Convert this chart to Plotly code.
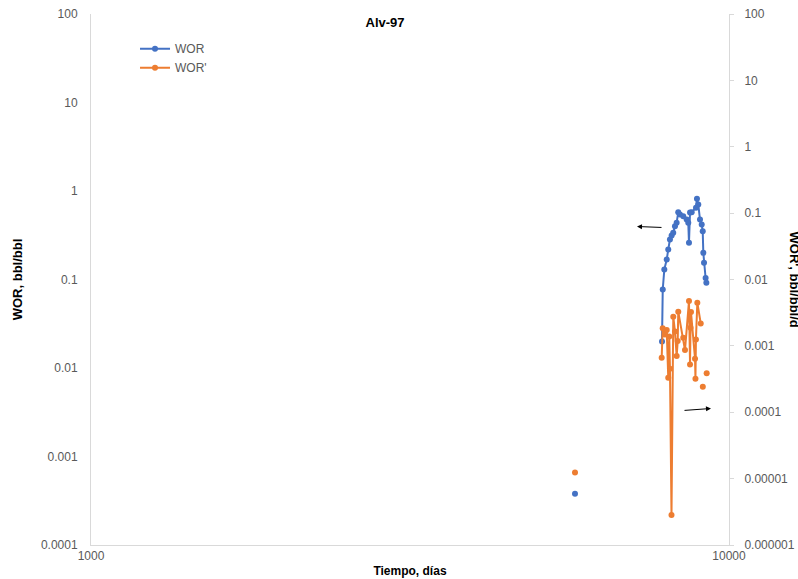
import plotly.graph_objects as go

# ---- data ----
wor_days = [5736, 6800, 7852, 7873, 7918, 7987, 8031, 8080, 8130, 8177, 8228, 8278,
            8326, 8378, 8478, 8583, 8633, 8655, 8688, 8740, 8877, 8908, 8951, 9006,
            9062, 9095, 9115, 9138, 9190, 9215]
wor_vals = [0.00038, None, 0.0199, 0.0771, 0.130, 0.168, 0.218, 0.283, 0.314, 0.337,
            0.400, 0.437, 0.576, 0.542, 0.519, 0.476, 0.437, 0.260, 0.571, 0.576,
            0.646, 0.816, 0.703, 0.476, 0.418, 0.352, 0.200, 0.155, 0.104, 0.092]

wor_d_days = [5736, 6800, 7843, 7872, 7937, 7987, 8031, 8061, 8081, 8126, 8178, 8229,
              8279, 8310, 8327, 8479, 8531, 8655, 8688, 8703, 8718, 8846, 8860, 8875,
              8920, 9030, 9060, 9098, 9160, 9226]
wor_d_vals = [1.24e-5, None, 0.000664, 0.00184, 0.00149, 0.00173, 0.000332, 0.00138,
              0.000453, 2.83e-6, 0.00275, 0.00164, 0.000701, 0.00118, 0.00328, 0.00133,
              0.000864, 0.00473, 0.000526, 0.00188, 0.00323, 0.000641, 0.000321, 0.00125,
              0.00448, 0.00218, None, 0.000243, None, 0.000386]

x_ticks = [1000, 10000]
x_ticklabels = ["1000", "10000"]
y_ticks = [0.0001, 0.001, 0.01, 0.1, 1, 10, 100]
y_ticklabels = ["0.0001", "0.001", "0.01", "0.1", "1", "10", "100"]
y2_ticks = [0.000001, 0.00001, 0.0001, 0.001, 0.01, 0.1, 1, 10, 100]
y2_ticklabels = ["0.000001", "0.00001", "0.0001", "0.001", "0.01", "0.1", "1", "10", "100"]

BLUE = "#4472C4"
ORANGE = "#ED7D31"
GRAY = "#595959"
AXIS = "#D9D9D9"
FONT = "Liberation Sans"

fig = go.Figure()
fig.add_trace(go.Scatter(x=wor_days, y=wor_vals, name="WOR", mode="lines+markers",
                         line=dict(color=BLUE, width=2), marker=dict(color=BLUE, size=6),
                         connectgaps=False, yaxis="y"))
fig.add_trace(go.Scatter(x=wor_d_days, y=wor_d_vals, name="WOR'", mode="lines+markers",
                         line=dict(color=ORANGE, width=2), marker=dict(color=ORANGE, size=6),
                         connectgaps=False, yaxis="y2"))

fig.update_layout(
    width=798, height=579,
    margin=dict(l=91, r=69, t=14, b=34, autoexpand=False),
    paper_bgcolor="white", plot_bgcolor="white",
    font=dict(family=FONT, size=12, color=GRAY),
    showlegend=True,
    legend=dict(x=0.069, y=0.962, xanchor="left", yanchor="top",
                bgcolor="rgba(0,0,0,0)", font=dict(size=12, color=GRAY),
                itemwidth=30, tracegroupgap=0),
    title=dict(text="<b>Alv-97</b>", x=0.4825, xref="container", xanchor="center",
               y=1 - 22 / 579, yref="container", yanchor="middle",
               font=dict(family=FONT, size=13, color="#000000")),
    xaxis=dict(type="log", range=[3, 4], tickvals=x_ticks, ticktext=x_ticklabels,
               automargin=False,
               showgrid=False, zeroline=False, showline=True, linecolor=AXIS, linewidth=1,
               ticks="", tickfont=dict(size=12, color=GRAY),
               title=dict(text="<b>Tiempo, días</b>", font=dict(size=12, color="#000000"),
                          standoff=4)),
    yaxis=dict(type="log", range=[-4, 2], tickvals=y_ticks, ticktext=y_ticklabels,
               automargin=False,
               showgrid=False, zeroline=False, showline=True, linecolor=AXIS, linewidth=1,
               ticks="", ticklabelstandoff=10, tickfont=dict(size=12, color=GRAY),
               title=dict(text="<b>WOR, bbl/bbl</b>", font=dict(size=13, color="#000000"),
                          standoff=15)),
    yaxis2=dict(type="log", range=[-6, 2], tickvals=y2_ticks, ticktext=y2_ticklabels,
                overlaying="y", side="right", automargin=False,
                showgrid=False, zeroline=False, showline=True, linecolor=AXIS, linewidth=1,
                ticks="outside", ticklen=4, tickcolor=AXIS, ticklabelstandoff=8,
                tickfont=dict(size=12, color=GRAY)),
)

# right-axis title (reads top to bottom, partially cut by the page edge)
fig.add_annotation(text="<b>WOR', bbl/bbl/d</b>", textangle=90,
                   xref="paper", yref="paper", x=(794 - 91) / 638, y=(545.5 - 280) / 531,
                   xanchor="center", yanchor="middle", showarrow=False,
                   font=dict(family=FONT, size=13, color="#000000"))

# arrows pointing to the respective axes
fig.add_annotation(xref="paper", yref="paper", x=(637 - 91) / 638, y=(545.5 - 227) / 531,
                   ax=26, ay=1, text="", showarrow=True, arrowhead=2, arrowsize=1,
                   arrowwidth=1, arrowcolor="#000000")
fig.add_annotation(xref="paper", yref="paper", x=(711 - 91) / 638, y=(545.5 - 409) / 531,
                   ax=-28, ay=2, text="", showarrow=True, arrowhead=2, arrowsize=1,
                   arrowwidth=1, arrowcolor="#000000")

fig.write_html("out.html", config={"displayModeBar": False},
               post_script="document.body.style.margin='0';document.body.style.overflow='hidden';")
